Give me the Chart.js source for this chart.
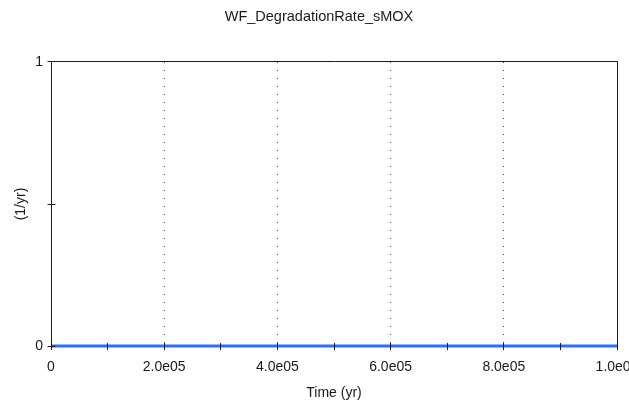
<!DOCTYPE html>
<html>
<head>
<meta charset="utf-8">
<script src="https://cdn.jsdelivr.net/npm/chart.js@4/dist/chart.umd.min.js"></script>
<style>
  html, body { margin: 0; padding: 0; background: #fff; overflow: hidden; }
  #wrap { width: 629px; height: 406px; position: relative; }
</style>
</head>
<body>
<div id="wrap"><canvas id="c" width="629" height="406"></canvas></div>
<script>
// Time history of the waste-form degradation rate
const timeYr = [0, 100000, 200000, 300000, 400000, 500000, 600000, 700000, 800000, 900000, 1000000];
const degradationRate = [0, 0, 0, 0, 0, 0, 0, 0, 0, 0, 0];

// Axis tick labels
const xTickValues = [0, 200000, 400000, 600000, 800000, 1000000];
const xTickLabels = ['0', '2.0e05', '4.0e05', '6.0e05', '8.0e05', '1.0e06'];
const xGridValues = [200000, 400000, 600000, 800000];
const yTickValues = [0, 1];
const yTickLabels = ['0', '1'];

const FONT = "'Liberation Sans', Arial, sans-serif";
const INK = '#1a1a1a';

// Plot frame (left/top/right) and tick marks that straddle the axes
const frameAndTicks = {
  id: 'frameAndTicks',
  beforeDatasetsDraw(chart) {
    const { ctx, chartArea: a } = chart;
    const L = Math.floor(a.left) + 0.5, R = Math.floor(a.right) + 0.5;
    const T = Math.floor(a.top) + 0.5, B = Math.floor(a.bottom) + 0.5;
    ctx.save();
    ctx.strokeStyle = INK;
    ctx.lineWidth = 1;
    ctx.beginPath();
    ctx.moveTo(L, B + 3); ctx.lineTo(L, T);
    ctx.lineTo(R, T); ctx.lineTo(R, B + 3);
    ctx.moveTo(L, B); ctx.lineTo(R, B);
    ctx.stroke();
    ctx.restore();
  },
  afterDatasetsDraw(chart) {
    const { ctx, chartArea: a, scales: { x, y } } = chart;
    const L = Math.floor(a.left) + 0.5;
    const B = Math.floor(a.bottom);
    ctx.save();
    ctx.strokeStyle = INK;
    ctx.lineWidth = 1;
    ctx.beginPath();
    x.ticks.forEach(t => {
      const px = Math.floor(x.getPixelForValue(t.value)) + 0.5;
      ctx.moveTo(px, B - 3); ctx.lineTo(px, B + 4);
    });
    y.ticks.forEach(t => {
      const py = Math.floor(y.getPixelForValue(t.value)) + 0.5;
      ctx.moveTo(L - 4, py); ctx.lineTo(L + 4, py);
    });
    ctx.stroke();
    ctx.restore();
  }
};

new Chart(document.getElementById('c'), {
  type: 'line',
  data: {
    datasets: [{
      label: 'WF_DegradationRate_sMOX',
      data: timeYr.map((t, i) => ({ x: t, y: degradationRate[i] })),
      borderColor: '#2f6bff',
      borderWidth: 3,
      pointRadius: 0,
      tension: 0,
      clip: false
    }]
  },
  options: {
    responsive: false,
    animation: false,
    devicePixelRatio: 1,
    layout: { padding: { left: 21, right: 12, top: 0, bottom: 0 } },
    plugins: {
      legend: { display: false },
      tooltip: { enabled: false },
      title: {
        display: true,
        text: 'WF_DegradationRate_sMOX',
        color: INK,
        font: { family: FONT, size: 14.5, weight: 'normal' },
        padding: { top: 8.3, bottom: 36.3 }
      }
    },
    scales: {
      x: {
        type: 'linear',
        min: 0,
        max: 1000000,
        afterFit(s) { s.height = 60; s.paddingLeft = 0; s.paddingRight = 0; },
        border: { display: false, dash: [1, 7], dashOffset: 0 },
        grid: {
          drawTicks: false,
          color: c => xGridValues.includes(c.tick && c.tick.value) ? '#4a4a4a' : 'rgba(0,0,0,0)',
          lineWidth: 1,
        },
        ticks: {
          stepSize: 100000,
          autoSkip: false,
          maxRotation: 0,
          minRotation: 0,
          padding: 12.3,
          color: INK,
          font: { family: FONT, size: 14 },
          callback: v => {
            const i = xTickValues.indexOf(v);
            return i >= 0 ? xTickLabels[i] : '';
          }
        },
        title: {
          display: true,
          text: 'Time (yr)',
          color: INK,
          font: { family: FONT, size: 14 },
          padding: { top: 0, bottom: 4.6 }
        }
      },
      y: {
        type: 'linear',
        min: 0,
        max: 1,
        afterFit(s) { s.width = 30; s.paddingTop = 0; s.paddingBottom = 0; },
        border: { display: false },
        grid: { display: false, drawTicks: false },
        ticks: {
          stepSize: 0.5,
          padding: 8,
          color: INK,
          font: { family: FONT, size: 14 },
          callback: v => {
            const i = yTickValues.indexOf(v);
            return i >= 0 ? yTickLabels[i] : '';
          }
        },
        title: {
          display: true,
          text: '(1/yr)',
          color: INK,
          font: { family: FONT, size: 14 },
          padding: { top: -8, bottom: 0 }
        }
      }
    }
  },
  plugins: [frameAndTicks]
});
</script>
</body>
</html>
